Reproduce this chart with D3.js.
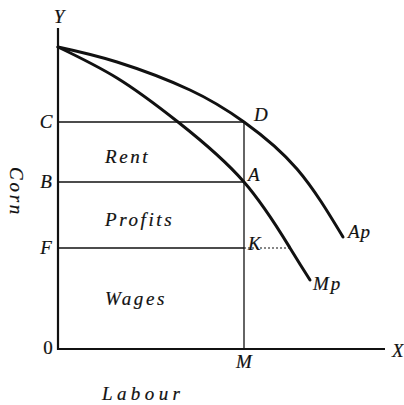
<!DOCTYPE html>
<html>
<head>
<meta charset="utf-8">
<script src="https://cdn.jsdelivr.net/npm/d3@7"></script>
<style>
    body { margin: 0; background: #fff; }
    text { font-family: "Liberation Serif", "DejaVu Serif", serif; font-style: italic; fill: #111; stroke: #111; stroke-width: 0.2; }
</style>
</head>
<body>
<svg id="chart"></svg>
<script>
const width = 404, height = 405

// data (labour on x, corn on y)
const labourMax = 327
const cornMax = 321
const apCurve = [[0, 302], [59, 287], [132, 259], [186, 227], [239, 180], [285, 112]]
const mpCurve = [[0, 302], [59, 271], [120, 227], [186, 167], [232, 101], [252, 69]]
const levelNames = ["C", "B", "F"]
const levelValues = [227, 167, 101]
const mLabour = 186
const kEnd = 232
const areaNames = ["Rent", "Profits", "Wages"]
const areaMid = [192, 129, 50]

const svg = d3.select("svg#chart")
    .attr("width", width)
    .attr("height", height)

const x = d3.scaleLinear().domain([0, labourMax]).range([58, 385])
const y = d3.scaleLinear().domain([0, cornMax]).range([349, 28])

const line = d3.line()
    .x(d => x(d[0]))
    .y(d => y(d[1]))
    .curve(d3.curveNatural)

// rectangle divisions
svg.append("g")
    .selectAll("line")
    .data(levelValues)
    .enter()
    .append("line")
    .attr("x1", x(0))
    .attr("x2", x(mLabour))
    .attr("y1", d => y(d))
    .attr("y2", d => y(d))
    .attr("stroke", "#111")
    .attr("stroke-width", 1.3)

svg.append("line")
    .attr("x1", x(mLabour)).attr("x2", x(mLabour))
    .attr("y1", y(levelValues[0])).attr("y2", y(0))
    .attr("stroke", "#111")
    .attr("stroke-width", 1.3)

// dotted K line
svg.append("line")
    .attr("x1", x(mLabour)).attr("x2", x(kEnd))
    .attr("y1", y(levelValues[2])).attr("y2", y(levelValues[2]))
    .attr("stroke", "#111")
    .attr("stroke-width", 1.2)
    .attr("stroke-dasharray", "2,2")

// axes
svg.append("line")
    .attr("x1", x(0)).attr("x2", x(0))
    .attr("y1", y(cornMax)).attr("y2", y(0) + 1)
    .attr("stroke", "#111").attr("stroke-width", 2.2)
svg.append("line")
    .attr("x1", x(0) - 1).attr("x2", x(labourMax))
    .attr("y1", y(0)).attr("y2", y(0))
    .attr("stroke", "#111").attr("stroke-width", 2.2)

// curves
svg.append("g")
    .selectAll("path")
    .data([apCurve, mpCurve])
    .enter()
    .append("path")
    .attr("d", line)
    .attr("fill", "none")
    .attr("stroke", "#111")
    .attr("stroke-width", 3)
    .attr("stroke-linecap", "round")

// letters on the Y axis
svg.append("g")
    .selectAll("text")
    .data(levelNames)
    .enter()
    .append("text")
    .attr("x", 46)
    .attr("y", (d, i) => y(levelValues[i]) + 6)
    .attr("text-anchor", "middle")
    .attr("font-size", 19)
    .text(d => d)

// area names
svg.append("g")
    .selectAll("text")
    .data(areaNames)
    .enter()
    .append("text")
    .attr("x", 105)
    .attr("y", (d, i) => y(areaMid[i]) + 6)
    .attr("font-size", 19)
    .attr("letter-spacing", 2.6)
    .text(d => d)

const label = (t, px, py, opts = {}) => svg.append("text")
    .attr("x", px).attr("y", py)
    .attr("font-size", opts.size || 19)
    .attr("text-anchor", opts.anchor || "start")
    .attr("letter-spacing", opts.spacing || 0)
    .style("font-style", opts.upright ? "normal" : null)
    .text(t)

label("Y", x(0) + 1, 23, {anchor: "middle"})
label("X", 392, 357)
label("0", 48, 354, {anchor: "middle", upright: true})
label("M", x(mLabour), 368, {anchor: "middle"})
label("D", x(mLabour) + 10, y(levelValues[0]) - 1)
label("A", x(mLabour) + 4, y(levelValues[1]) - 1)
label("K", x(mLabour) + 4, y(levelValues[2]) + 2)
label("Ap", x(apCurve[apCurve.length - 1][0]) + 5, y(apCurve[apCurve.length - 1][1]) + 1, {spacing: 1})
label("Mp", x(mpCurve[mpCurve.length - 1][0]) + 3, y(mpCurve[mpCurve.length - 1][1]) + 10, {spacing: 2})
label("Labour", 102, 400, {spacing: 4.4})

svg.append("text")
    .attr("transform", "translate(10, 192) rotate(90)")
    .attr("text-anchor", "middle")
    .attr("font-size", 19)
    .attr("letter-spacing", 2.7)
    .text("Corn")
</script>
</body>
</html>
